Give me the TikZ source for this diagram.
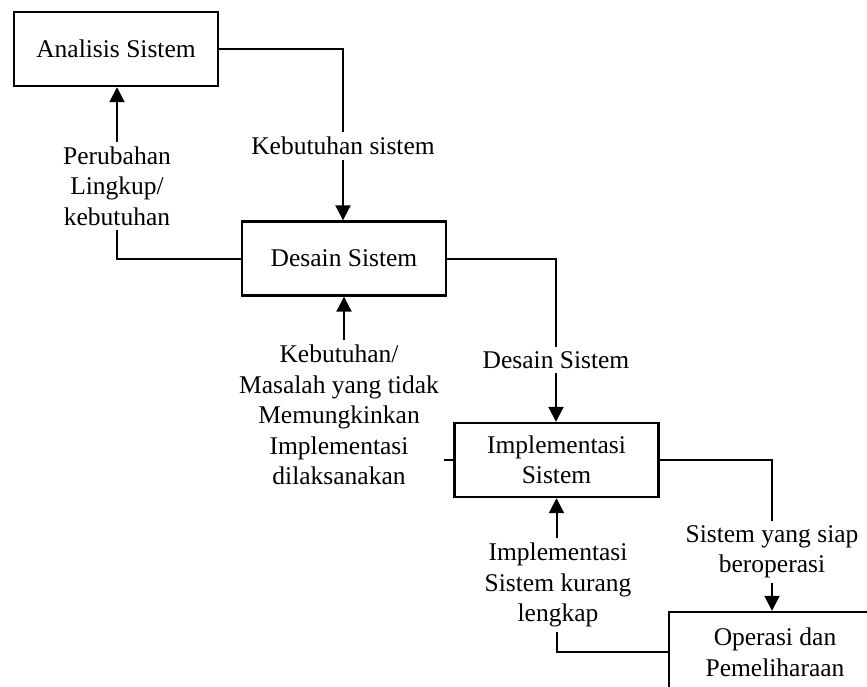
\documentclass[tikz,border=0pt]{standalone}
\usepackage{fontspec}
\setmainfont{Liberation Serif}
\usetikzlibrary{arrows.meta}
\begin{document}
\begin{tikzpicture}[x=1pt,y=-1pt,
  stage/.style={draw, line width=2.4pt, fill=white, minimum width=204pt, minimum height=74pt,
    inner sep=0pt, align=center, font=\fontsize{25.5}{30.5}\selectfont},
  lbl/.style={inner sep=4.5pt, align=center, font=\fontsize{25.5}{30.5}\selectfont},
  flow/.style={line width=2pt},
  arr/.style={flow, -{Triangle[length=15pt,width=15pt]}}]
\clip (0,0) rectangle (867,687);

% stages of the waterfall
\node[stage] (A) at (116,49) {Analisis Sistem};
\node[stage] (D) at (344,258.5) {Desain Sistem};
\node[stage] (I) at (556.5,460) {Implementasi\\Sistem};
\node[stage, minimum width=212pt, minimum height=80pt, text depth=0pt] (O) at (775,652) {Operasi dan\\Pemeliharaan};

% flow labels
\node[lbl] (k1) at (343,146) {Kebutuhan sistem};
\node[lbl] (p) at (117,186) {Perubahan\\Lingkup/\\kebutuhan};
\node[lbl] (m) at (339,415) {Kebutuhan/\\Masalah yang tidak\\Memungkinkan\\Implementasi\\dilaksanakan};
\node[lbl] (ds) at (556,360) {Desain Sistem};
\node[lbl] (ik) at (558,585) {Implementasi\\Sistem kurang\\lengkap};
\node[lbl] (sy) at (772,552) {Sistem yang siap\\beroperasi};

% forward flow
\draw[flow] (A.east) -| (k1.north);
\draw[arr] (k1.south) -- (k1.south |- D.north);
\draw[flow] (D.east) -| (ds.north);
\draw[arr] (ds.south) -- (ds.south |- I.north);
\draw[flow] (I.east) -| (sy.north);
\draw[arr] (sy.south) -- (sy.south |- O.north);

% feedback flow
\draw[flow] (D.west) -| (p.south);
\draw[arr] (p.north) -- (p.north |- A.south);
\draw[flow] (I.west) -- (I.west -| m.east);
\draw[arr] (D.south |- m.north) -- (D.south);
\draw[flow] (O.west) -| (I.south |- ik.south);
\draw[arr] (I.south |- ik.north) -- (I.south);
\end{tikzpicture}
\end{document}
